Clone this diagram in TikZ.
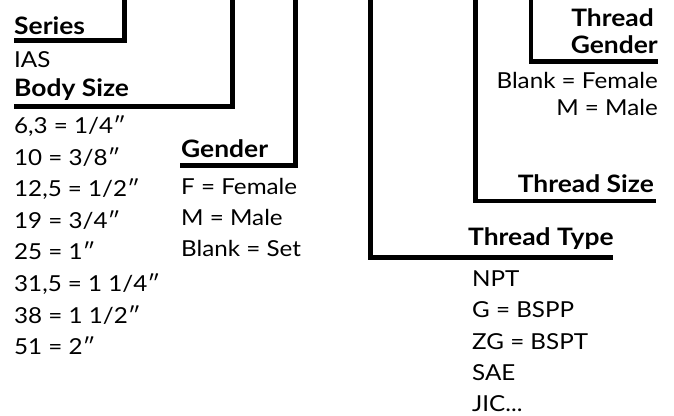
\documentclass[tikz,border=0pt]{standalone}
\usepackage{fontspec}
\setmainfont{Lato}
\newfontfamily\wideLato[FakeStretch=1.10]{Lato}
\begin{document}
\begin{tikzpicture}[x=1pt,y=-1pt,
  lbl/.style={inner sep=0pt,font=\wideLato\fontsize{22}{26}\selectfont},
  hd/.style={inner sep=0pt,font=\wideLato\fontsize{24}{28}\selectfont\bfseries},
  bracket/.style={line width=4.6pt,line join=miter,line cap=butt}]
\useasboundingbox (0,0) rectangle (674,415);
% Series
\node[hd,anchor=base west] (series) at (14,34) {Series};
\node[lbl,anchor=base west] (ias) at (14,67) {IAS};
\coordinate (s1) at (14,40.5);
\coordinate (s2) at (124.5,40.5);
\coordinate (s3) at (124.5,0);
\draw[bracket] (s1) -- (s2) -- (s3);
% Body size
\node[hd,anchor=base west] (body) at (14,96) {Body Size};
\coordinate (b1) at (14,106.5);
\coordinate (b2) at (232.5,106.5);
\coordinate (b3) at (232.5,0);
\draw[bracket] (b1) -- (b2) -- (b3);
\node[lbl,anchor=base west] (bs0) at (14,133.5) {6,3 = 1/4″};
\node[lbl,anchor=base west] (bs1) at (14,165.1) {10 = 3/8″};
\node[lbl,anchor=base west] (bs2) at (14,196.7) {12,5 = 1/2″};
\node[lbl,anchor=base west] (bs3) at (14,228.3) {19 = 3/4″};
\node[lbl,anchor=base west] (bs4) at (14,259.9) {25 = 1″};
\node[lbl,anchor=base west] (bs5) at (14,291.5) {31,5 = 1 1/4″};
\node[lbl,anchor=base west] (bs6) at (14,323.1) {38 = 1 1/2″};
\node[lbl,anchor=base west] (bs7) at (14,354.7) {51 = 2″};
% Gender
\node[hd,anchor=base west] (gender) at (181,157) {Gender};
\coordinate (g1) at (180,165.5);
\coordinate (g2) at (295.5,165.5);
\coordinate (g3) at (295.5,0);
\draw[bracket] (g1) -- (g2) -- (g3);
\node[lbl,anchor=base west] (gf) at (181,194.5) {F = Female};
\node[lbl,anchor=base west] (gm) at (181,225.3) {M = Male};
\node[lbl,anchor=base west] (gb) at (181,256) {Blank = Set};
% Thread type
\node[hd,anchor=base west] (ttype) at (468,245.5) {Thread Type};
\coordinate (t1) at (370.5,0);
\coordinate (t2) at (370.5,257.5);
\coordinate (t3) at (613,257.5);
\draw[bracket] (t1) -- (t2) -- (t3);
\node[lbl,anchor=base west] (tt0) at (472,286.7) {NPT};
\node[lbl,anchor=base west] (tt1) at (472,317.7) {G = BSPP};
\node[lbl,anchor=base west] (tt2) at (472,349.3) {ZG = BSPT};
\node[lbl,anchor=base west] (tt3) at (472,380.7) {SAE};
\node[lbl,anchor=base west] (tt4) at (472,411.5) {JIC...};
% Thread size
\node[hd,anchor=base east] (tsize) at (654,192) {Thread Size};
\coordinate (z1) at (475.5,0);
\coordinate (z2) at (475.5,201);
\coordinate (z3) at (656,201);
\draw[bracket] (z1) -- (z2) -- (z3);
% Thread gender
\node[hd,anchor=base east] (tg1) at (654,27) {Thread};
\node[hd,anchor=base east] (tg2) at (658,53) {Gender};
\coordinate (q1) at (531,0);
\coordinate (q2) at (531,61.5);
\coordinate (q3) at (658,61.5);
\draw[bracket] (q1) -- (q2) -- (q3);
\node[lbl,anchor=base east] (qf) at (658,88.3) {Blank = Female};
\node[lbl,anchor=base east] (qm) at (658,115) {M = Male};
\end{tikzpicture}
\end{document}
